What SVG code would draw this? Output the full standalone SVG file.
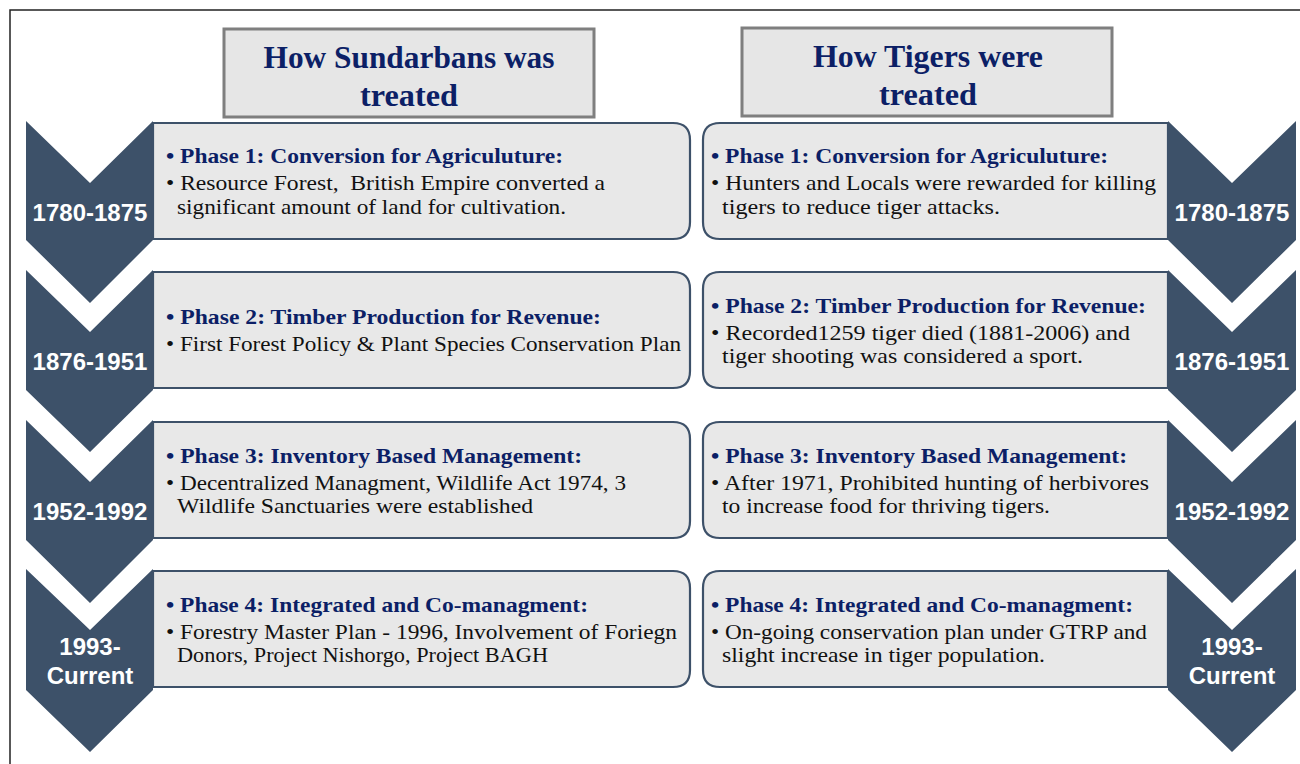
<svg xmlns="http://www.w3.org/2000/svg" width="1300" height="764" viewBox="0 0 1300 764">
<defs>
<style>
.chev{fill:#3d5169}
.box{fill:#e8e8e8;stroke:#3d5169;stroke-width:2.2}
.hdr{fill:#e6e6e6;stroke:#7f7f7f;stroke-width:3}
.ht{font-family:"Liberation Serif",serif;font-weight:bold;font-size:31px;fill:#0c1f66;text-anchor:middle}
.ph{font-family:"Liberation Serif",serif;font-weight:bold;font-size:21.5px;fill:#0c1f66}
.bd{font-family:"Liberation Serif",serif;font-size:21.5px;fill:#111}
.yr{font-family:"Liberation Sans",Arial,sans-serif;font-weight:bold;font-size:24px;fill:#fff;text-anchor:middle}
</style>
</defs>
<rect x="0" y="0" width="1300" height="764" fill="#fff"/>
<rect x="10" y="10" width="1300" height="770" fill="none" stroke="#222" stroke-width="1.5"/>

<g id="header-left">
<rect class="hdr" x="224" y="29" width="370" height="88"/>
<text class="ht" x="409" y="68" textLength="291" lengthAdjust="spacingAndGlyphs">How Sundarbans was</text>
<text class="ht" x="409" y="106" textLength="98" lengthAdjust="spacingAndGlyphs">treated</text>
</g>
<g id="header-right">
<rect class="hdr" x="742" y="28" width="370" height="88"/>
<text class="ht" x="928" y="67" textLength="230" lengthAdjust="spacingAndGlyphs">How Tigers were</text>
<text class="ht" x="928" y="105" textLength="98" lengthAdjust="spacingAndGlyphs">treated</text>
</g>

<g id="left-chevron-1"><polygon class="chev" points="26,121 90,183 153,121 153,240 90,303 26,240"/><text class="yr" x="90" y="221">1780-1875</text></g>
<g id="left-chevron-2"><polygon class="chev" points="26,270 90,332 153,270 153,390 90,452 26,390"/><text class="yr" x="90" y="370">1876-1951</text></g>
<g id="left-chevron-3"><polygon class="chev" points="26,420 90,482 153,420 153,540 90,603 26,540"/><text class="yr" x="90" y="520">1952-1992</text></g>
<g id="left-chevron-4"><polygon class="chev" points="26,569 90,630 153,569 153,690 90,752 26,690"/><text class="yr" x="90" y="655">1993-</text><text class="yr" x="90" y="684">Current</text></g>

<g id="right-chevron-1"><polygon class="chev" points="1168,121 1232,183 1296,121 1296,240 1232,303 1168,240"/><text class="yr" x="1232" y="221">1780-1875</text></g>
<g id="right-chevron-2"><polygon class="chev" points="1168,270 1232,332 1296,270 1296,390 1232,452 1168,390"/><text class="yr" x="1232" y="370">1876-1951</text></g>
<g id="right-chevron-3"><polygon class="chev" points="1168,420 1232,482 1296,420 1296,540 1232,603 1168,540"/><text class="yr" x="1232" y="520">1952-1992</text></g>
<g id="right-chevron-4"><polygon class="chev" points="1168,569 1232,630 1296,569 1296,690 1232,752 1168,690"/><text class="yr" x="1232" y="655">1993-</text><text class="yr" x="1232" y="684">Current</text></g>

<g id="left-box-1">
<path class="box" d="M153,123 H673 Q690,123 690,140 V222 Q690,239 673,239 H153 Z"/>
<text class="ph" x="166" y="163" textLength="397" lengthAdjust="spacingAndGlyphs">• Phase 1: Conversion for Agriculuture:</text>
<text class="bd" x="166" y="190" textLength="439" lengthAdjust="spacingAndGlyphs" xml:space="preserve">• Resource Forest,  British Empire converted a</text>
<text class="bd" x="177" y="214" textLength="389" lengthAdjust="spacingAndGlyphs">significant amount of land for cultivation.</text>
</g>
<g id="left-box-2">
<path class="box" d="M153,272 H673 Q690,272 690,289 V371 Q690,388 673,388 H153 Z"/>
<text class="ph" x="166" y="324" textLength="435" lengthAdjust="spacingAndGlyphs">• Phase 2: Timber Production for Revenue:</text>
<text class="bd" x="166" y="351" textLength="515" lengthAdjust="spacingAndGlyphs">• First Forest Policy &amp; Plant Species Conservation Plan</text>
</g>
<g id="left-box-3">
<path class="box" d="M153,422 H673 Q690,422 690,439 V521 Q690,538 673,538 H153 Z"/>
<text class="ph" x="166" y="463" textLength="416" lengthAdjust="spacingAndGlyphs">• Phase 3: Inventory Based Management:</text>
<text class="bd" x="166" y="490" textLength="460" lengthAdjust="spacingAndGlyphs">• Decentralized Managment, Wildlife Act 1974, 3</text>
<text class="bd" x="177" y="513" textLength="356" lengthAdjust="spacingAndGlyphs">Wildlife Sanctuaries were established</text>
</g>
<g id="left-box-4">
<path class="box" d="M153,571 H673 Q690,571 690,588 V670 Q690,687 673,687 H153 Z"/>
<text class="ph" x="166" y="612" textLength="422" lengthAdjust="spacingAndGlyphs">• Phase 4: Integrated and Co-managment:</text>
<text class="bd" x="166" y="639" textLength="511" lengthAdjust="spacingAndGlyphs">• Forestry Master Plan - 1996, Involvement of Foriegn</text>
<text class="bd" x="177" y="662" textLength="371" lengthAdjust="spacingAndGlyphs">Donors, Project Nishorgo, Project BAGH</text>
</g>

<g id="right-box-1">
<path class="box" d="M1168,123 H720 Q703,123 703,140 V222 Q703,239 720,239 H1168 Z"/>
<text class="ph" x="711" y="163" textLength="397" lengthAdjust="spacingAndGlyphs">• Phase 1: Conversion for Agriculuture:</text>
<text class="bd" x="711" y="190" textLength="445" lengthAdjust="spacingAndGlyphs">• Hunters and Locals were rewarded for killing</text>
<text class="bd" x="722" y="214" textLength="278" lengthAdjust="spacingAndGlyphs">tigers to reduce tiger attacks.</text>
</g>
<g id="right-box-2">
<path class="box" d="M1168,272 H720 Q703,272 703,289 V371 Q703,388 720,388 H1168 Z"/>
<text class="ph" x="711" y="313" textLength="435" lengthAdjust="spacingAndGlyphs">• Phase 2: Timber Production for Revenue:</text>
<text class="bd" x="711" y="340" textLength="419" lengthAdjust="spacingAndGlyphs">• Recorded1259 tiger died (1881-2006) and</text>
<text class="bd" x="722" y="363" textLength="361" lengthAdjust="spacingAndGlyphs">tiger shooting was considered a sport.</text>
</g>
<g id="right-box-3">
<path class="box" d="M1168,422 H720 Q703,422 703,439 V521 Q703,538 720,538 H1168 Z"/>
<text class="ph" x="711" y="463" textLength="416" lengthAdjust="spacingAndGlyphs">• Phase 3: Inventory Based Management:</text>
<text class="bd" x="711" y="490" textLength="438" lengthAdjust="spacingAndGlyphs">• After 1971, Prohibited hunting of herbivores</text>
<text class="bd" x="722" y="513" textLength="328" lengthAdjust="spacingAndGlyphs">to increase food for thriving tigers.</text>
</g>
<g id="right-box-4">
<path class="box" d="M1168,571 H720 Q703,571 703,588 V670 Q703,687 720,687 H1168 Z"/>
<text class="ph" x="711" y="612" textLength="422" lengthAdjust="spacingAndGlyphs">• Phase 4: Integrated and Co-managment:</text>
<text class="bd" x="711" y="639" textLength="436" lengthAdjust="spacingAndGlyphs">• On-going conservation plan under GTRP and</text>
<text class="bd" x="722" y="662" textLength="323" lengthAdjust="spacingAndGlyphs">slight increase in tiger population.</text>
</g>
<g id="connectors"></g>
</svg>
